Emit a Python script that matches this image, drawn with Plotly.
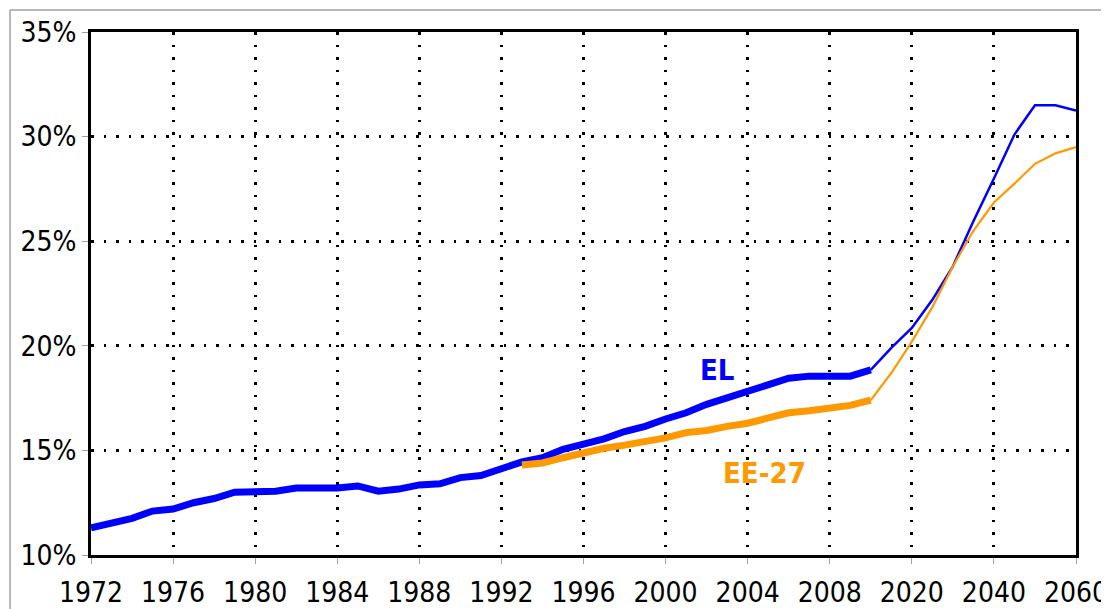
import plotly.graph_objects as go

# category labels: annual history, then 5-year projection steps
years_hist = ["1972", "1973", "1974", "1975", "1976", "1977", "1978", "1979",
              "1980", "1981", "1982", "1983", "1984", "1985", "1986", "1987",
              "1988", "1989", "1990", "1991", "1992", "1993", "1994", "1995",
              "1996", "1997", "1998", "1999", "2000", "2001", "2002", "2003",
              "2004", "2005", "2006", "2007", "2008", "2009", "2010"]
years_proj = ["2010", "2015", "2020", "2025", "2030", "2035", "2040",
              "2045", "2050", "2055", "2060"]
years_ee_hist = years_hist[21:]  # 1993-2010

# EL (Greece), % share
el_hist = [11.3, 11.5, 11.75, 12.1, 12.2, 12.5, 12.7, 13.0,
           13.05, 13.05, 13.2, 13.2, 13.2, 13.3, 13.05, 13.15,
           13.35, 13.4, 13.7, 13.8, 14.1, 14.45, 14.65, 15.05,
           15.3, 15.55, 15.9, 16.15, 16.5, 16.8, 17.2, 17.5,
           17.85, 18.1, 18.45, 18.55, 18.55, 18.55, 18.85]
el_proj = [18.85, 19.9, 20.85, 22.2, 23.8, 25.95, 28.0, 30.1, 31.5, 31.5, 31.25]

# EE-27 (EU-27), % share
ee_hist = [14.3, 14.4, 14.65, 14.9, 15.1, 15.25, 15.4, 15.6, 15.85,
           15.95, 16.15, 16.3, 16.55, 16.8, 16.9, 17.05, 17.15, 17.4]
ee_proj = [17.4, 18.7, 20.2, 21.85, 23.8, 25.5, 26.85, 27.75, 28.7, 29.2, 29.5]

all_years = years_hist + years_proj[1:]
tick_years = all_years[::4]

BLUE = "#0000FF"
ORANGE = "#FF9900"
FONT = "DejaVu Sans Condensed, DejaVu Sans, sans-serif"

fig = go.Figure()
fig.add_trace(go.Scatter(x=years_hist, y=el_hist, mode="lines",
                         line=dict(color=BLUE, width=7), showlegend=False))
fig.add_trace(go.Scatter(x=years_proj, y=el_proj, mode="lines",
                         line=dict(color=BLUE, width=2.5), showlegend=False))
fig.add_trace(go.Scatter(x=years_ee_hist, y=ee_hist, mode="lines",
                         line=dict(color=ORANGE, width=7), showlegend=False))
fig.add_trace(go.Scatter(x=years_proj, y=ee_proj, mode="lines",
                         line=dict(color=ORANGE, width=2.2), showlegend=False))

fig.add_annotation(x=30.5, y=18.85, text="<b>EL</b>", showarrow=False,
                   font=dict(color=BLUE, size=29, family=FONT))
fig.add_annotation(x=32.8, y=13.9, text="<b>EE-27</b>", showarrow=False,
                   font=dict(color=ORANGE, size=29, family=FONT))

# slide frame lines
fig.add_shape(type="line", xref="paper", yref="paper",
              x0=-0.0822, x1=1.04, y0=1.042, y1=1.042,
              line=dict(color="#A0A0A0", width=1.5))
fig.add_shape(type="line", xref="paper", yref="paper",
              x0=-0.0822, x1=-0.0822, y0=1.042, y1=-0.11,
              line=dict(color="#A0A0A0", width=1.5))

fig.update_xaxes(type="category", categoryorder="array", categoryarray=all_years,
                 range=[0, len(all_years) - 1], automargin=False,
                 tickmode="array", tickvals=tick_years, ticktext=tick_years,
                 showgrid=True, gridcolor="black", gridwidth=2.5, griddash="2.5px,10px",
                 showline=True, linecolor="black", linewidth=3, mirror=True,
                 ticks="outside", ticklen=6, tickcolor="#A0A0A0", tickwidth=1,
                 ticklabelstandoff=4,
                 tickfont=dict(size=28, color="black", family=FONT), zeroline=False)
fig.update_yaxes(range=[10, 35], dtick=5, ticksuffix="%", automargin=False,
                 showgrid=True, gridcolor="black", gridwidth=2.5, griddash="2.5px,10px",
                 showline=True, linecolor="black", linewidth=3, mirror=True,
                 ticks="outside", ticklen=6, tickcolor="#A0A0A0", tickwidth=1,
                 ticklabelstandoff=0,
                 tickfont=dict(size=28, color="black", family=FONT), zeroline=False)

# page body adds ~8px offset, so figure is 8px smaller
fig.update_layout(width=1101, height=601,
                  margin=dict(l=83, r=33, t=24, b=54),
                  paper_bgcolor="white", plot_bgcolor="white",
                  font=dict(family=FONT))

fig.write_html("out.html")
